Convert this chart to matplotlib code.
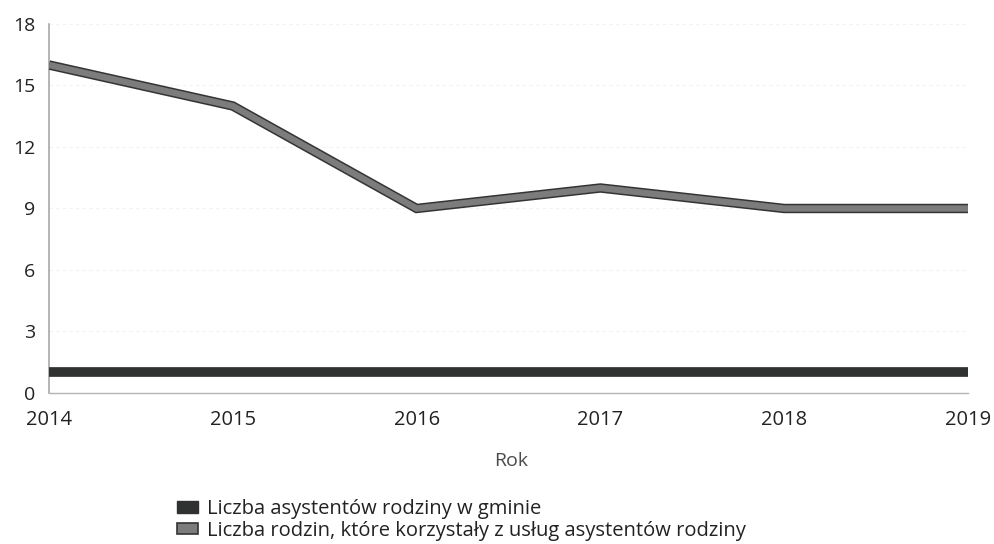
import matplotlib
matplotlib.use("Agg")
import matplotlib.pyplot as plt
import matplotlib.patheffects as pe
from matplotlib.patches import Patch

years = [2014, 2015, 2016, 2017, 2018, 2019]
assistants = [1, 1, 1, 1, 1, 1]
families = [16, 14, 9, 10, 9, 9]
y_ticks = [0, 3, 6, 9, 12, 15, 18]
series_labels = [
    "Liczba asystentów rodziny w gminie",
    "Liczba rodzin, które korzystały z usług asystentów rodziny",
]

plt.rcParams["font.family"] = ["Open Sans", "DejaVu Sans"]

fig = plt.figure(figsize=(9.94, 5.44), dpi=100)
ax = fig.add_axes([0.0493, 0.2776, 0.9245, 0.6783])

dark = "#2f3231"
grey = "#7c7c7c"
edge = "#343434"

ax.plot(years, assistants, color=dark, lw=7, solid_capstyle="butt", zorder=3)
ax.plot(years, families, color=grey, lw=4.6, solid_capstyle="butt", solid_joinstyle="miter",
        path_effects=[pe.Stroke(linewidth=6.8, foreground=edge), pe.Normal()], zorder=4)

ax.set_xlim(years[0], years[-1])
ax.set_ylim(0, 18)
ax.set_yticks(y_ticks)
ax.set_xticks(years)
ax.set_xticklabels([str(y) for y in years])

for s in ["top", "right"]:
    ax.spines[s].set_visible(False)
ax.spines["left"].set_color("#a0a0a0")
ax.spines["left"].set_linewidth(1.1)
ax.spines["bottom"].set_color("#b4b4b4")
ax.spines["bottom"].set_linestyle((0, (2, 1)))
ax.spines["bottom"].set_linewidth(1.0)

ax.yaxis.grid(True, color="#f2f2f2", lw=0.8, linestyle=(0, (3, 3)))
ax.set_axisbelow(True)

ax.tick_params(axis="both", length=0, colors="#222222")
ax.tick_params(axis="y", labelsize=14, pad=10)
ax.tick_params(axis="x", labelsize=14.5, pad=12)

fig.text(0.5143, 1 - 461 / 544, "Rok", fontsize=14, color="#4a4a4a",
         ha="center", va="center")

handles = [Patch(facecolor=dark, edgecolor=dark),
           Patch(facecolor=grey, edgecolor=edge, linewidth=1.2)]
fig.legend(handles, series_labels, loc="upper left", bbox_to_anchor=(177 / 994, 1 - 499 / 544),
           frameon=False, fontsize=14.5, handlelength=1.05, handleheight=0.5,
           handletextpad=0.45, labelspacing=0.08, borderaxespad=0, borderpad=0,
           labelcolor="#222222")

fig.savefig("out.png", dpi=100, facecolor="white")
